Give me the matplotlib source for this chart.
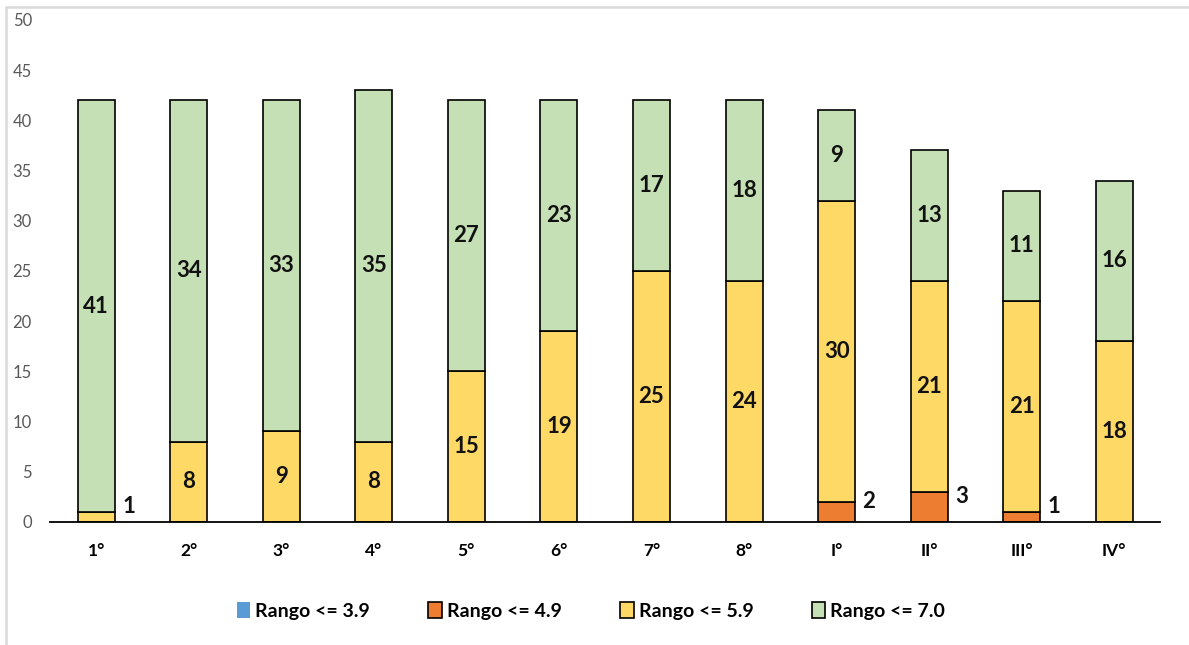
import matplotlib.pyplot as plt
import numpy as np
from matplotlib.patches import Rectangle

plt.rcParams['font.family'] = ['Lato', 'DejaVu Sans']

cursos = ["1°", "2°", "3°", "4°", "5°", "6°", "7°", "8°", "I°", "II°", "III°", "IV°"]
rango_39 = [0, 0, 0, 0, 0, 0, 0, 0, 0, 0, 0, 0]
rango_49 = [0, 0, 0, 0, 0, 0, 0, 0, 2, 3, 1, 0]
rango_59 = [1, 8, 9, 8, 15, 19, 25, 24, 30, 21, 21, 18]
rango_70 = [41, 34, 33, 35, 27, 23, 17, 18, 9, 13, 11, 16]

series = [("Rango <= 3.9", rango_39, "#5B9BD5"),
          ("Rango <= 4.9", rango_49, "#ED7D31"),
          ("Rango <= 5.9", rango_59, "#FFD966"),
          ("Rango <= 7.0", rango_70, "#C5E0B4")]

fig = plt.figure(figsize=(11.89, 6.45), dpi=100)
ax = fig.add_axes([0.042, 0.191, 0.934, 0.778])

x = np.arange(len(cursos))
w = 0.4
bottom = np.zeros(len(cursos))
handles = []
for name, vals, col in series:
    vals = np.array(vals, dtype=float)
    ec = "none" if name == "Rango <= 3.9" else "black"
    b = ax.bar(x, vals, w, bottom=bottom, color=col, edgecolor=ec, linewidth=1.2, label=name)
    handles.append(b)
    for xi, v, b0 in zip(x, vals, bottom):
        if v == 0:
            continue
        if v <= 3:
            # small segments: label to the right of the bar
            ax.text(xi + w / 2 + 0.08, b0 + v / 2 + 1.0, f"{int(v)}", ha="left", va="center",
                    fontsize=16, fontweight="bold", color="#111111")
        else:
            ax.text(xi, b0 + v / 2, f"{int(v)}", ha="center", va="center",
                    fontsize=16, fontweight="bold", color="#111111")
    bottom += vals

ax.set_ylim(0, 50)
ax.set_xlim(-0.5, 11.5)
ax.set_yticks(np.arange(0, 51, 5))
ax.set_xticks(x)
ax.set_xticklabels(cursos, fontsize=12.5, fontweight="bold")
ax.tick_params(axis="y", length=0, labelsize=12, labelcolor="#595959", pad=13)
ax.tick_params(axis="x", length=0, pad=15)
for s in ["top", "right", "left"]:
    ax.spines[s].set_visible(False)
ax.spines["bottom"].set_linewidth(1.3)

leg = fig.legend(handles=handles, loc="center", bbox_to_anchor=(0.497, 0.053), ncol=4,
                 frameon=False, prop={"size": 14, "weight": "bold"},
                 handlelength=0.7, handleheight=0.9, handletextpad=0.25, columnspacing=3.0)

fig.patches.append(Rectangle((6 / 1189, -0.05), 1.2, 1.05 - 7 / 645, transform=fig.transFigure,
                             fill=False, edgecolor="#D9D9D9", linewidth=1.8))

fig.savefig("out.png", dpi=100)
